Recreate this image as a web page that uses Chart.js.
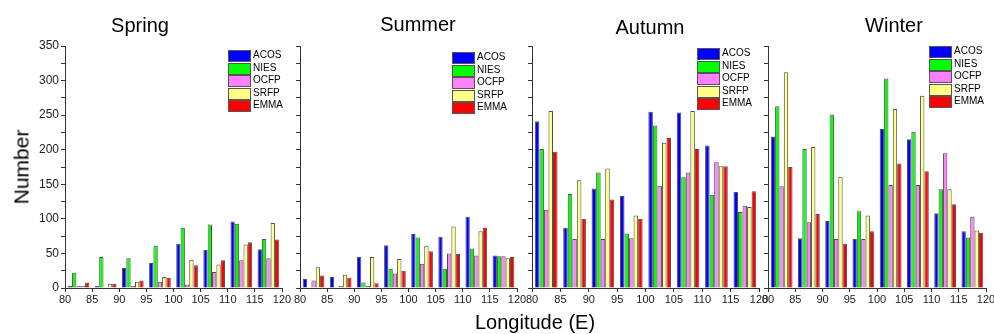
<!DOCTYPE html>
<html>
<head>
<meta charset="utf-8">
<script src="https://cdn.jsdelivr.net/npm/chart.js@4.4.1/dist/chart.umd.min.js"></script>
<style>
  body { margin:0; width:994px; height:334px; background:#fff; overflow:hidden; position:relative;
         font-family:"Liberation Sans", Arial, sans-serif; }
  canvas { position:absolute; left:0; top:0; }
  .title { position:absolute; font-size:20px; line-height:20px; white-space:nowrap; color:#000; transform:translateX(-50%); }
  .ylab { position:absolute; font-size:21px; line-height:21px; white-space:nowrap; color:#000;
          transform:translate(-50%,-50%) rotate(-90deg); }
  .xlab { position:absolute; font-size:20px; line-height:20px; white-space:nowrap; color:#000; transform:translateX(-50%); }
  .legend { position:absolute; font-size:10px; color:#000; }
  .legend .row { position:relative; height:12.5px; }
  .legend .box { position:absolute; left:0; top:0; width:21px; height:10px; border:1px solid #555; }
  .legend .txt { position:absolute; left:25px; top:-1px; line-height:12px; white-space:nowrap; }
</style>
</head>
<body>
<canvas id="c0" width="994" height="334"></canvas>
<canvas id="c1" width="994" height="334"></canvas>
<canvas id="c2" width="994" height="334"></canvas>
<canvas id="c3" width="994" height="334"></canvas>
<script>
// ---------------- data ----------------
const longitudes = [82.5, 87.5, 92.5, 97.5, 102.5, 107.5, 112.5, 117.5];
const xTickValues = [80, 85, 90, 95, 100, 105, 110, 115, 120];
const yTickValues = [0, 25, 50, 75, 100, 125, 150, 175, 200, 225, 250, 275, 300, 325, 350];
const yTickLabels = ['0', '', '50', '', '100', '', '150', '', '200', '', '250', '', '300', '', '350'];
const seasons = ['Spring', 'Summer', 'Autumn', 'Winter'];
const products = ['ACOS', 'NIES', 'OCFP', 'SRFP', 'EMMA'];
const productColors = ['#0000FF', '#00FF00', '#FF80FF', '#FFFF88', '#FF0000'];

const springACOS = [3, 3, 29, 36, 64, 55, 96, 56];
const springNIES = [22, 45, 43, 61, 87, 92, 93, 71];
const springOCFP = [3, 1, 3, 9, 5, 23, 40, 43];
const springSRFP = [3, 6, 9, 16, 41, 34, 63, 94];
const springEMMA = [8, 6, 11, 15, 33, 40, 66, 70];

const summerACOS = [13, 16, 45, 62, 78, 74, 103, 47];
const summerNIES = [0, 0, 8, 28, 73, 28, 57, 46];
const summerOCFP = [11, 3, 3, 21, 35, 50, 47, 46];
const summerSRFP = [30, 19, 45, 42, 61, 89, 82, 43];
const summerEMMA = [18, 15, 7, 25, 53, 49, 87, 45];

const autumnACOS = [241, 87, 144, 133, 255, 254, 206, 139];
const autumnNIES = [201, 136, 167, 79, 235, 160, 135, 110];
const autumnOCFP = [113, 71, 71, 72, 148, 167, 182, 119];
const autumnSRFP = [256, 156, 173, 105, 210, 256, 176, 117];
const autumnEMMA = [197, 100, 128, 100, 217, 201, 176, 140];

const winterACOS = [219, 72, 97, 71, 230, 215, 108, 82];
const winterNIES = [263, 201, 251, 111, 303, 226, 143, 73];
const winterOCFP = [147, 95, 71, 71, 149, 149, 195, 103];
const winterSRFP = [312, 204, 161, 105, 259, 278, 143, 83];
const winterEMMA = [175, 107, 64, 82, 180, 169, 121, 80];

const seasonSeries = [
  [springACOS, springNIES, springOCFP, springSRFP, springEMMA],
  [summerACOS, summerNIES, summerOCFP, summerSRFP, summerEMMA],
  [autumnACOS, autumnNIES, autumnOCFP, autumnSRFP, autumnEMMA],
  [winterACOS, winterNIES, winterOCFP, winterSRFP, winterEMMA]
];

// ---------------- layout ----------------
const W = 994, H = 334;
const plotLeft = [65, 300, 532, 768];
const plotRight = [282, 517, 759, 986];
const plotTop = 46, plotBottom = 288;
const yAxisW = 40, xAxisH = 20;
const titleX = [140, 418, 650, 894];
const titleTop = [15, 14, 17, 15];
const legendLeft = [228, 452, 697, 929];
const legendTop = [50, 52, 48, 46];
const FONT = '"Liberation Sans", Arial, sans-serif';
const axisColor = '#333';

seasons.forEach((season, i) => {
  const datasets = products.map((p, k) => ({
    label: p,
    data: longitudes.map((x, j) => ({ x: x, y: seasonSeries[i][k][j] })),
    backgroundColor: productColors[k],
    borderColor: '#505050',
    borderWidth: 1,
    borderSkipped: 'start',
    categoryPercentage: 0.8,
    barPercentage: 1.0
  }));

  new Chart(document.getElementById('c' + i), {
    type: 'bar',
    data: { datasets },
    options: {
      responsive: false,
      animation: false,
      events: [],
      layout: { padding: { left: plotLeft[i] - yAxisW, right: W - plotRight[i], top: plotTop, bottom: H - plotBottom - xAxisH } },
      plugins: { legend: { display: false }, tooltip: { enabled: false }, title: { display: false } },
      scales: {
        x: {
          type: 'linear', min: 80, max: 120, offset: false,
          grid: { display: true, drawOnChartArea: false, drawTicks: true, tickLength: 4, color: axisColor, offset: false },
          border: { display: true, color: axisColor, width: 1 },
          afterBuildTicks: s => { s.ticks = xTickValues.map(v => ({ value: v })); },
          ticks: { autoSkip: false, maxRotation: 0, color: '#222', padding: 1, font: { size: 11, family: FONT },
                   callback: (v) => String(v) },
          afterFit: s => { s.height = xAxisH; s.paddingLeft = 0; s.paddingRight = 0; }
        },
        y: {
          min: 0, max: 350,
          grid: { display: true, drawOnChartArea: false, drawTicks: true, tickLength: 4, color: axisColor },
          border: { display: true, color: axisColor, width: 1 },
          afterBuildTicks: s => { s.ticks = yTickValues.map(v => ({ value: v })); },
          ticks: { autoSkip: false, display: i === 0, color: '#222', padding: 2, font: { size: 12, family: FONT },
                   callback: (v) => yTickLabels[yTickValues.indexOf(v)] },
          afterFit: s => { s.width = yAxisW; s.paddingTop = 0; s.paddingBottom = 0; }
        }
      }
    }
  });

  // title
  const t = document.createElement('div');
  t.className = 'title';
  t.style.left = titleX[i] + 'px';
  t.style.top = titleTop[i] + 'px';
  t.textContent = season;
  document.body.appendChild(t);

  // legend
  const lg = document.createElement('div');
  lg.className = 'legend';
  lg.style.left = legendLeft[i] + 'px';
  lg.style.top = legendTop[i] + 'px';
  products.forEach((p, k) => {
    const row = document.createElement('div');
    row.className = 'row';
    const b = document.createElement('div');
    b.className = 'box';
    b.style.background = productColors[k];
    const tx = document.createElement('div');
    tx.className = 'txt';
    tx.textContent = p;
    row.appendChild(b); row.appendChild(tx);
    lg.appendChild(row);
  });
  document.body.appendChild(lg);
});

const yl = document.createElement('div');
yl.className = 'ylab';
yl.style.left = '21px'; yl.style.top = '167px';
yl.textContent = 'Number';
document.body.appendChild(yl);

const xl = document.createElement('div');
xl.className = 'xlab';
xl.style.left = '535px'; xl.style.top = '312px';
xl.textContent = 'Longitude (E)';
document.body.appendChild(xl);
</script>
</body>
</html>
